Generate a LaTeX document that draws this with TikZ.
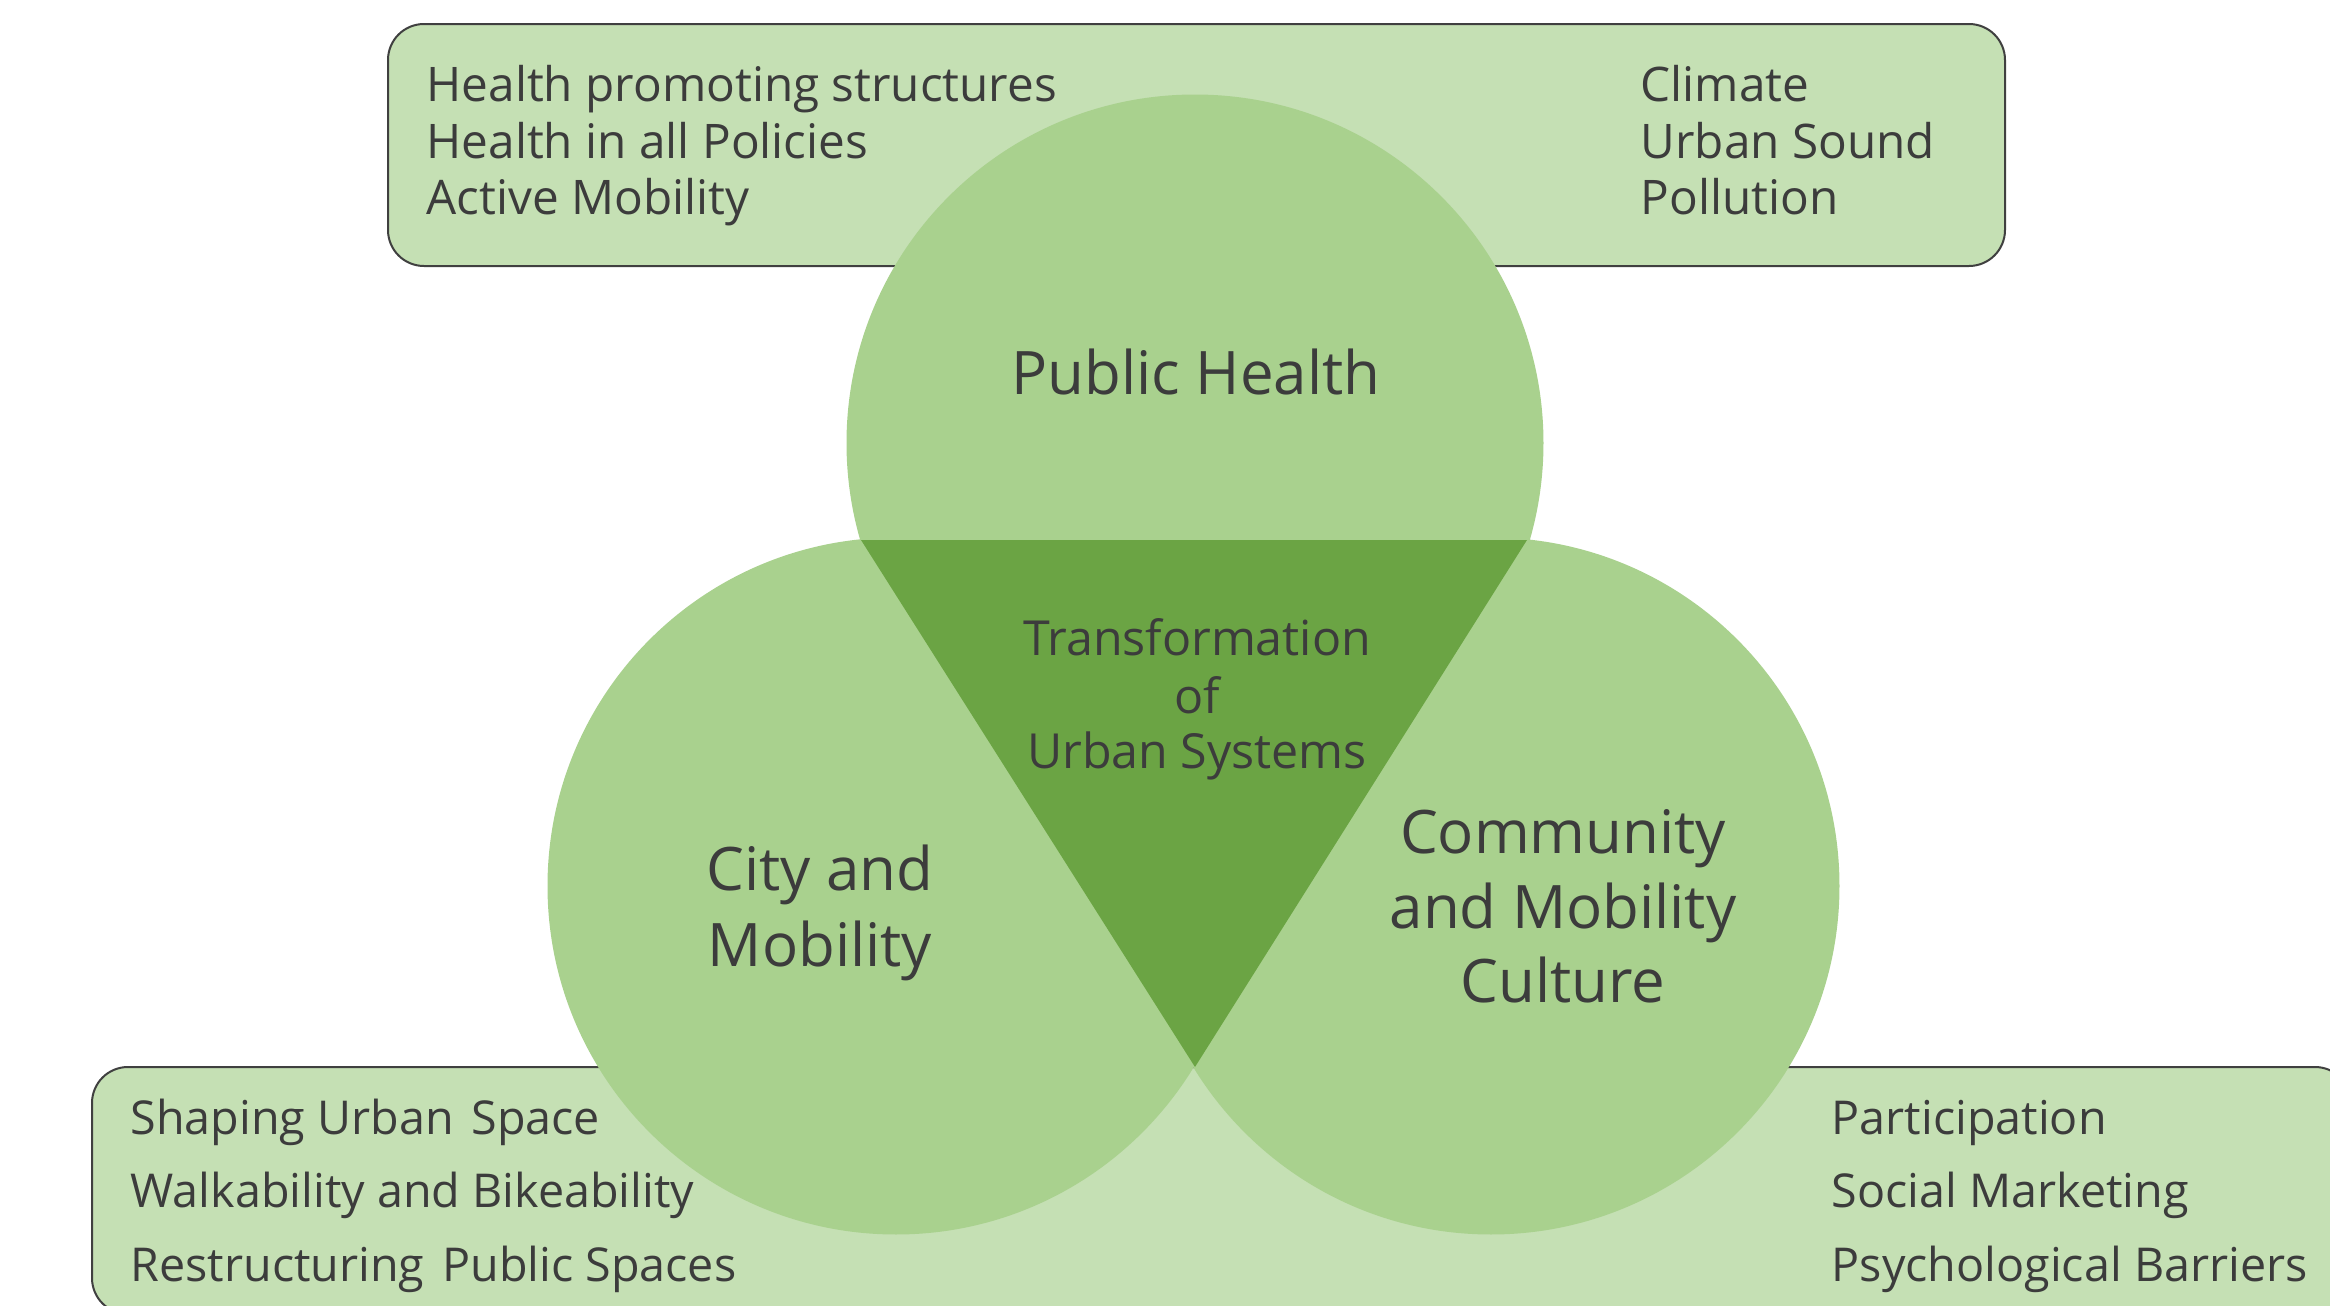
\documentclass[tikz,border=0pt]{standalone}
\usepackage{fontspec}
\setmainfont{Open Sans}
\definecolor{boxfill}{HTML}{C5E0B4}
\definecolor{circfill}{HTML}{A9D18E}
\definecolor{trifill}{HTML}{6BA444}
\definecolor{txt}{HTML}{3C3C3C}
\definecolor{edge}{HTML}{404040}
\begin{document}
\begin{tikzpicture}[x=0.3pt,y=-0.3pt,
  infobox/.style={draw=edge, line width=0.6pt, fill=boxfill, rounded corners=10.8pt},
  circ/.style={circle, fill=circfill, minimum size=209.1pt, inner sep=0pt, outer sep=0pt},
  small/.style={font=\fontsize{14}{17}\selectfont, text=txt, inner sep=0pt},
  toptext/.style={font=\fontsize{14.3}{17}\selectfont, text=txt, inner sep=0pt},
  mid/.style={font=\fontsize{14.5}{17}\selectfont, text=txt, inner sep=0pt},
  big/.style={font=\fontsize{18}{22}\selectfont, text=txt, inner sep=0pt}]
\useasboundingbox (0,0) rectangle (2330,1306);
\clip (0,0) rectangle (2330,1306);
% boxes
\draw[infobox] (388,24) rectangle (2005,266);
\draw[infobox] (92,1067) rectangle (2351,1314);
% circles
\node[circ] (ph) at (1195,443) {};
\node[circ] (cm) at (896,886) {};
\node[circ] (cc) at (1491,886) {};
% centre triangle
\coordinate (ta) at (861,540);
\coordinate (tb) at (1527,540);
\coordinate (tc) at (1195,1067);
\fill[trifill] (ta) -- (tb) -- (tc) -- cycle;
% top box text
\node[toptext, anchor=base west] (t1) at (426,102) {Health promoting structures};
\node[toptext, anchor=base west] (t2) at (426,158) {Health in all Policies};
\node[toptext, anchor=base west] (t3) at (426,214) {Active Mobility};
\node[toptext, anchor=base west] (t4) at (1640,102) {Climate};
\node[toptext, anchor=base west] (t5) at (1640,158) {Urban Sound};
\node[toptext, anchor=base west] (t6) at (1640,214) {Pollution};
% circle labels
\node[big, anchor=base] (phl) at (1196,394) {Public Health};
\node[big, anchor=base] (cm1) at (820,890) {City and};
\node[big, anchor=base] (cm2) at (820,966) {Mobility};
\node[big, anchor=base] (cc1) at (1563,853) {Community};
\node[big, anchor=base] (cc2) at (1563,928) {and Mobility};
\node[big, anchor=base] (cc3) at (1563,1002) {Culture};
% triangle labels
\node[mid, anchor=base] (tr1) at (1197,655) {Transformation};
\node[mid, anchor=base] (tr2) at (1197,713) {of};
\node[mid, anchor=base] (tr3) at (1197,768) {Urban Systems};
% bottom box text
\node[small, anchor=base west] (b1) at (130,1134) {Shaping Urban\hspace{0.38em}Space};
\node[small, anchor=base west] (b2) at (130,1207) {Walkability and Bikeability};
\node[small, anchor=base west] (b3) at (130,1281) {Restructuring\hspace{0.38em}Public Spaces};
\node[small, anchor=base west] (b4) at (1831,1134) {Participation};
\node[small, anchor=base west] (b5) at (1831,1207) {Social Marketing};
\node[small, anchor=base west] (b6) at (1831,1281) {Psychological Barriers};
\end{tikzpicture}
\end{document}
